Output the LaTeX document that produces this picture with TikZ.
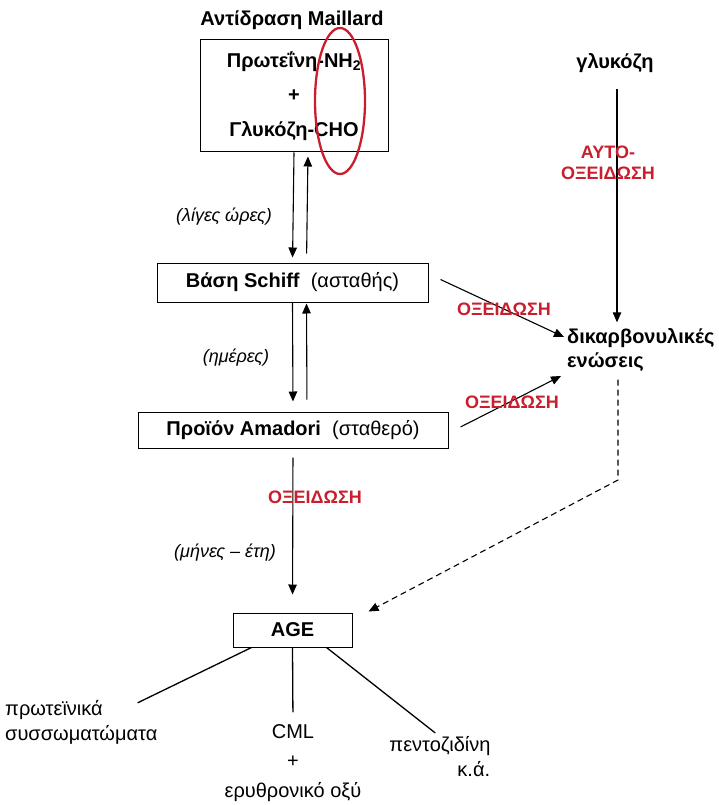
\documentclass[tikz,border=0pt]{standalone}
\usepackage{fontspec}
\setmainfont{Liberation Sans}
\usetikzlibrary{arrows.meta}
\definecolor{oxred}{RGB}{200,30,45}
\tikzset{
      stepbox/.style={
        draw,
        line width=1pt,
        inner sep=0pt,
        font=\fontsize{20}{24}\selectfont
      },
      flow/.style={-{Triangle[length=10pt,width=8.5pt]}, line width=1.1pt},
      link/.style={line width=1.3pt},
      oxlabel/.style={text=oxred, font=\bfseries\fontsize{18}{21}\selectfont, align=center},
      timelabel/.style={font=\itshape\fontsize{18}{21}\selectfont},
      endlabel/.style={font=\fontsize{20}{25}\selectfont, inner sep=0pt}
    }
\begin{document}
\begin{tikzpicture}[x=1pt,y=-1pt]
    \useasboundingbox (0,0) rectangle (719,805);
    \node[font=\bfseries\fontsize{20}{24}\selectfont] (title) at (292,20) {Αντίδραση Maillard};
    \node[stepbox, minimum width=188pt, minimum height=112pt, align=center, font=\bfseries\fontsize{20}{24}\selectfont] (reac) at (294,96) {Πρωτεΐνη-NH\textsubscript{2}\\[10.5pt]+\\[10.5pt]Γλυκόζη-CHO};
    \draw[oxred, line width=2.3pt] (340,101) ellipse [x radius=25pt, y radius=73pt];
    \node[stepbox, minimum width=271pt, minimum height=39pt] (schiff) at (292.5,282.5) {\textbf{Βάση Schiff}\ \ (ασταθής)};
    \node[stepbox, minimum width=310pt, minimum height=36pt] (amad) at (293,430) {\textbf{Προϊόν Amadori}\ \ (σταθερό)};
    \node[stepbox, minimum width=119pt, minimum height=34pt, font=\bfseries\fontsize{20}{24}\selectfont] (age) at (292.5,630) {AGE};
    % main chain
    \draw[flow, shorten >=5pt] (reac.south) -- (schiff.north);
    \draw[flow, shorten <=9pt, shorten >=4pt] ([xshift=14pt]schiff.north) -- ([xshift=14pt]reac.south);
    \node[timelabel] (t1) at (224,217) {(λίγες ώρες)};
    \draw[flow, shorten >=10pt] (schiff.south) -- (amad.north);
    \draw[flow, shorten <=12pt, shorten >=1pt] ([xshift=14pt]amad.north) -- ([xshift=14pt]schiff.south);
    \node[timelabel] (t2) at (236,358) {(ημέρες)};
    \draw[flow, shorten <=9pt, shorten >=18pt] (amad.south) -- (age.north);
    \node[oxlabel] (ox3) at (315,497) {ΟΞΕΙΔΩΣΗ};
    \node[timelabel] (t3) at (225,553) {(μήνες – έτη)};
    % glucose side
    \node[font=\bfseries\fontsize{20}{24}\selectfont] (gluc) at (615,63) {γλυκόζη};
    \node[font=\bfseries\fontsize{20}{24}\selectfont, align=left, anchor=west, inner sep=0pt] (dicarb) at (567,350) {δικαρβονυλικές\\ενώσεις};
    \draw[flow, shorten <=13pt, shorten >=6pt] ([xshift=2pt]gluc.south) -- ([xshift=2pt]gluc.south |- dicarb.north);
    \node[oxlabel] (auto) at (608,163) {ΑΥΤΟ-\\ΟΞΕΙΔΩΣΗ};
    \draw[flow] ([xshift=12pt,yshift=3pt]schiff.east) -- ([xshift=-3pt,yshift=13pt]dicarb.west);
    \node[oxlabel] (ox1) at (504,309) {ΟΞΕΙΔΩΣΗ};
    \draw[flow] ([xshift=12pt,yshift=3pt]amad.east) -- ([xshift=-6pt,yshift=-26pt]dicarb.west);
    \node[oxlabel] (ox2) at (512,402) {ΟΞΕΙΔΩΣΗ};
    \coordinate (bend) at (618,480);
    \draw[flow, dash pattern=on 6pt off 4pt, shorten <=8pt] (dicarb.south -| bend) -- (bend) -- ([xshift=16pt,yshift=1pt]age.north east);
    % products
    \node[endlabel, anchor=west, align=left] (prot) at (5,722) {πρωτεϊνικά\\συσσωματώματα};
    \node[endlabel, align=center, font=\fontsize{20}{29.5}\selectfont] (cml) at (293,763) {CML\\+\\ερυθρονικό οξύ};
    \node[endlabel, align=left] (pent) at (440,757) {πεντοζιδίνη\\\hspace*{68pt}κ.ά.};
    \draw[link] ([xshift=19pt]age.south west) -- ([xshift=-20pt,yshift=-3pt]prot.north east);
    \draw[link, shorten >=12pt] (age.south) -- (cml.north);
    \draw[link, shorten >=6pt] ([xshift=-26pt]age.south east) -- (pent.north);
\end{tikzpicture}
\end{document}
